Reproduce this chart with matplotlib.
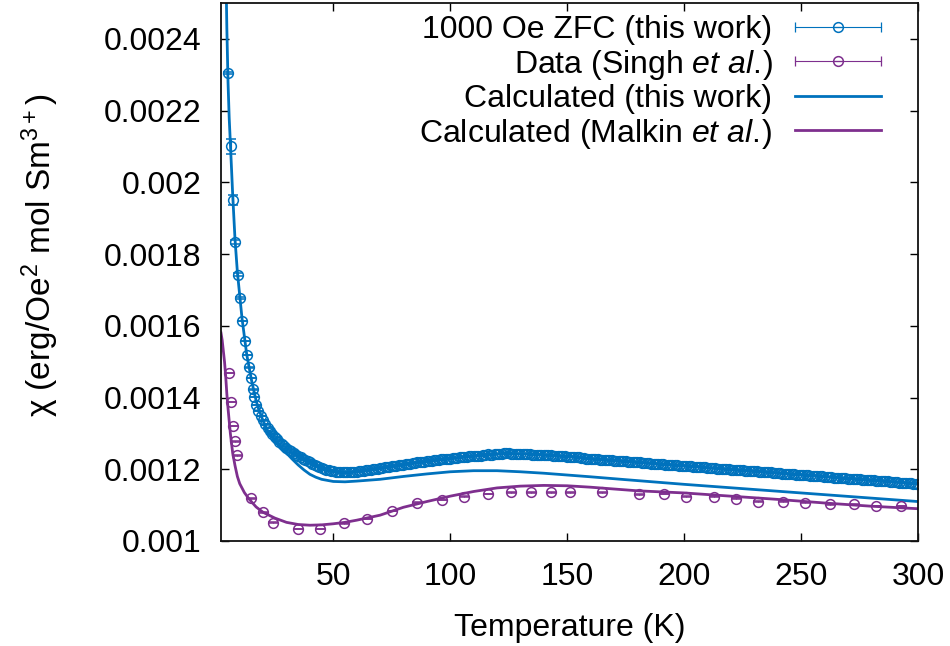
import matplotlib
matplotlib.use("Agg")
import matplotlib.pyplot as plt
from matplotlib.lines import Line2D
from matplotlib.legend_handler import HandlerBase
from matplotlib.ticker import FuncFormatter, MultipleLocator

plt.rcParams['font.family'] = ['Liberation Sans', 'DejaVu Sans']
plt.rcParams['mathtext.fontset'] = 'custom'
plt.rcParams['mathtext.rm'] = 'Liberation Sans'
plt.rcParams['mathtext.it'] = 'Liberation Sans:italic'
plt.rcParams['mathtext.sf'] = 'Liberation Sans'

BLUE = '#0072bd'
PURPLE = '#7e2f8e'
FS = 23

# ---------------- data ----------------
# 1000 Oe ZFC (this work)
T_zfc_low = [4.9, 6.1, 7.1, 8.1, 9.3, 10.1, 11.1, 12.1, 13.2, 14.0, 14.8, 15.6, 16.3, 17.1]
chi_zfc_low = [0.002304, 0.0021, 0.00195, 0.001834, 0.001742, 0.001678, 0.001613, 0.001558,
               0.001519, 0.001484, 0.001454, 0.001423, 0.001402, 0.001379]
T_zfc_high = list(range(18, 301))
chi_zfc_high = [
    # 18-60
    0.001362, 0.001348, 0.001336, 0.001325, 0.001315, 0.001306, 0.001298, 0.00129, 0.001283,
    0.001277, 0.001271, 0.001265, 0.00126, 0.001255, 0.00125, 0.001245, 0.001241, 0.001237,
    0.001233, 0.001229, 0.001226, 0.001223, 0.00122, 0.001216, 0.001212, 0.001209, 0.001206,
    0.001203, 0.001201, 0.001199, 0.001197, 0.001195, 0.001194, 0.001193, 0.001192, 0.001191,
    0.001191, 0.001191, 0.001191, 0.001191, 0.001192, 0.001192, 0.001193,
    # 61-100
    0.001194, 0.001195, 0.001196, 0.001197, 0.001198, 0.001199, 0.0012, 0.001201, 0.001202,
    0.001203, 0.001204, 0.001205, 0.001206, 0.001207, 0.001208, 0.001209, 0.00121, 0.001211,
    0.001212, 0.001213, 0.001214, 0.001215, 0.001216, 0.001217, 0.001218, 0.001219, 0.001219,
    0.00122, 0.001221, 0.001222, 0.001223, 0.001224, 0.001225, 0.001226, 0.001227, 0.001228,
    0.001228, 0.001229, 0.00123, 0.00123,
    # 101-140
    0.001231, 0.001232, 0.001232, 0.001233, 0.001234, 0.001234, 0.001235, 0.001236, 0.001236,
    0.001237, 0.001237, 0.001238, 0.001238, 0.001239, 0.001241, 0.001242, 0.00124, 0.001241,
    0.001242, 0.001243, 0.001242, 0.001242, 0.001244, 0.001245, 0.001244, 0.001243, 0.001243,
    0.001243, 0.001243, 0.001243, 0.001243, 0.001242, 0.001242, 0.001242, 0.001241, 0.001241,
    0.001241, 0.001241, 0.00124, 0.00124,
    # 141-200
    0.00124, 0.001239, 0.001239, 0.001238, 0.001238, 0.001237, 0.001237, 0.001236, 0.001236,
    0.001235, 0.001235, 0.001234, 0.001234, 0.001233, 0.001233, 0.001232, 0.001231, 0.00123,
    0.00123, 0.001229, 0.001229, 0.001228, 0.001228, 0.001227, 0.001227, 0.001226, 0.001226,
    0.001225, 0.001225, 0.001224, 0.001224, 0.001223, 0.001223, 0.001222, 0.001222, 0.001221,
    0.001221, 0.00122, 0.00122, 0.001219, 0.001219, 0.001218, 0.001218, 0.001217, 0.001217,
    0.001216, 0.001216, 0.001215, 0.001215, 0.001214, 0.001214, 0.001213, 0.001213, 0.001212,
    0.001212, 0.001211, 0.001211, 0.00121, 0.00121, 0.001209,
    # 201-250
    0.001209, 0.001208, 0.001208, 0.001207, 0.001207, 0.001206, 0.001206, 0.001205, 0.001205,
    0.001204, 0.001204, 0.001203, 0.001203, 0.001202, 0.001202, 0.001201, 0.001201, 0.0012,
    0.0012, 0.001199, 0.001199, 0.001198, 0.001198, 0.001197, 0.001197, 0.001196, 0.001196,
    0.001195, 0.001195, 0.001194, 0.001194, 0.001193, 0.001193, 0.001192, 0.001192, 0.001191,
    0.001191, 0.00119, 0.00119, 0.001189, 0.001189, 0.001188, 0.001188, 0.001187, 0.001187,
    0.001186, 0.001186, 0.001185, 0.001185, 0.001184,
    # 251-300
    0.001184, 0.001183, 0.001183, 0.001182, 0.001182, 0.001181, 0.001181, 0.00118, 0.00118,
    0.001179, 0.001179, 0.001178, 0.001178, 0.001177, 0.001177, 0.001176, 0.001176, 0.001175,
    0.001175, 0.001174, 0.001174, 0.001173, 0.001173, 0.001172, 0.001172, 0.001171, 0.001171,
    0.00117, 0.00117, 0.001169, 0.001169, 0.001168, 0.001168, 0.001167, 0.001167, 0.001166,
    0.001166, 0.001165, 0.001165, 0.001164, 0.001164, 0.001163, 0.001163, 0.001162, 0.001162,
    0.001161, 0.001161, 0.00116, 0.00116, 0.001159,
]
T_zfc = T_zfc_low + T_zfc_high
chi_zfc = chi_zfc_low + chi_zfc_high
err_zfc_low = [0.000003, 0.00002, 0.000014, 0.000006, 0.000004, 0.000003]
err_floor = 0.0000008

# Data (Singh et al.)
T_singh = [5.4, 6.2, 7.3, 8.1, 9.0, 14.8, 20.1, 24.4, 34.9, 44.4, 54.6, 64.6, 75.3, 85.7,
           96.4, 105.7, 116.3, 125.9, 134.5, 143.0, 151.3, 164.9, 180.8, 191.2, 200.9,
           212.6, 222.2, 231.4, 242.1, 251.5, 262.2, 272.8, 282.2, 292.8]
chi_singh = [0.001468, 0.001387, 0.001321, 0.001278, 0.001239, 0.001119, 0.00108, 0.001051,
             0.001033, 0.001033, 0.001049, 0.001061, 0.001084, 0.001107, 0.001114, 0.001124,
             0.001131, 0.001136, 0.001136, 0.001136, 0.001136, 0.001136, 0.00113, 0.001131,
             0.001124, 0.001124, 0.001118, 0.00111, 0.00111, 0.001107, 0.001102, 0.001102,
             0.001098, 0.001098]

# Calculated (this work)
T_calc = [3.0, 3.5, 4.0, 4.5, 5.0, 5.5, 6.0, 7.0, 8.0, 9.0, 10.0, 11.0, 12.0, 13.0, 14.0, 15.0,
          16.0, 17.0, 18.0, 20.0, 22.5, 25.0, 27.5, 30.0, 32.5, 35.0, 37.5, 40.0, 42.5, 45.0,
          50.0, 55.0, 60.0, 70.0, 80.0, 90.0, 100.0, 110.0, 120.0, 130.0, 140.0, 150.0, 160.0,
          175.0, 200.0, 225.0, 250.0, 275.0, 300.0]
chi_calc = [0.0031, 0.00283, 0.00263, 0.00243, 0.00228, 0.00218, 0.00211, 0.001965, 0.00184,
            0.00175, 0.001685, 0.00162, 0.00157, 0.00152, 0.001485, 0.00145, 0.00142, 0.001392,
            0.00137, 0.001335, 0.0013, 0.00128, 0.001262, 0.001245, 0.001228, 0.001212,
            0.001198, 0.001186, 0.001178, 0.001172, 0.001166, 0.001165, 0.001167, 0.001172,
            0.00118, 0.001187, 0.001193, 0.001196, 0.001196, 0.001193, 0.001189, 0.001184,
            0.001179, 0.001171, 0.001158, 0.001146, 0.001134, 0.001122, 0.00111]

# Calculated (Malkin et al.)
T_malkin = [2.0, 2.5, 3.0, 3.5, 4.0, 4.5, 5.0, 6.0, 7.0, 8.0, 9.0, 10.0, 12.0, 14.0, 17.0,
            20.0, 25.0, 30.0, 35.0, 40.0, 45.0, 50.0, 55.0, 60.0, 70.0, 80.0, 90.0, 100.0,
            110.0, 120.0, 130.0, 140.0, 150.0, 160.0, 170.0, 180.0, 190.0, 200.0, 220.0,
            240.0, 260.0, 280.0, 300.0]
chi_malkin = [0.00158, 0.00156, 0.00153, 0.0015, 0.00146, 0.00141, 0.00137, 0.0013, 0.001245,
              0.00121, 0.00118, 0.00116, 0.001135, 0.001117, 0.001095, 0.00108, 0.001064,
              0.001052, 0.001046, 0.001044, 0.001045, 0.001048, 0.001052, 0.001058, 0.001072,
              0.001094, 0.00111, 0.001125, 0.001138, 0.001148, 0.001153, 0.001155, 0.001154,
              0.00115, 0.001145, 0.00114, 0.001137, 0.001134, 0.001125, 0.001116, 0.001106,
              0.001097, 0.00109]

labels = ['1000 Oe ZFC (this work)', r'Data (Singh $\mathit{et\ al.}\!\mathrm{)}$',
          'Calculated (this work)', r'Calculated (Malkin $\mathit{et\ al.}\!\mathrm{)}$']

# ---------------- figure ----------------
fig = plt.figure(figsize=(9.5, 6.46), dpi=100)
ax = fig.add_axes([221 / 950, 1 - 541 / 646, 697 / 950, 538 / 646])

yerr_zfc = err_zfc_low + [err_floor] * (len(T_zfc) - len(err_zfc_low))
yerr_singh = [err_floor] * len(T_singh)

mk = dict(marker='o', ms=7.0, mfc='none', mew=1.1, ls='none', capsize=3.5,
          elinewidth=0.8, capthick=0.9)
ax.errorbar(T_zfc, chi_zfc, yerr=yerr_zfc, color=BLUE, mec=BLUE, ecolor=BLUE, **mk)
ax.errorbar(T_singh, chi_singh, yerr=yerr_singh, color=PURPLE, mec=PURPLE, ecolor=PURPLE, **mk)
ax.plot(T_calc, chi_calc, color=BLUE, lw=2.0)
ax.plot(T_malkin, chi_malkin, color=PURPLE, lw=2.0)

ax.set_xlim(2, 300)
ax.set_ylim(0.001, 0.0025)
ax.xaxis.set_major_locator(MultipleLocator(50))
ax.yaxis.set_major_locator(MultipleLocator(0.0002))
ax.yaxis.set_major_formatter(FuncFormatter(lambda v, p: '%g' % round(v, 6)))
ax.xaxis.set_major_formatter(FuncFormatter(lambda v, p: '%g' % v))

for s in ax.spines.values():
    s.set_linewidth(1.3)
    s.set_color('#111111')
ax.tick_params(direction='in', top=True, right=True, length=5.5, width=1.0,
               labelsize=FS, colors='black')
ax.tick_params(axis='x', pad=15)
ax.tick_params(axis='y', pad=14)

ax.set_xlabel('Temperature (K)', fontsize=FS)
ax.xaxis.set_label_coords(0.5, (541 - 628) / 538)
ax.xaxis.label.set_va('center')
ax.set_ylabel(r'χ (erg/Oe$^{2}$ mol Sm$^{3+}$)', fontsize=24)
ax.yaxis.set_label_coords((40 - 221) / 697, (541 - 255) / 538)
ax.yaxis.label.set_va('center')


class GnuErrHandler(HandlerBase):
    def __init__(self, color):
        super().__init__()
        self.color = color

    def create_artists(self, legend, orig_handle, xdescent, ydescent, width, height,
                       fontsize, trans):
        y = height / 2 - ydescent
        x0 = -xdescent
        x1 = x0 + width
        xm = (x0 + x1) / 2
        line = Line2D([x0, x1], [y, y], color=self.color, lw=0.8)
        caps = Line2D([x0, x1], [y, y], ls='none', marker='|', ms=7, mew=0.9, color=self.color)
        circ = Line2D([xm], [y], ls='none', marker='o', ms=7.0, mfc='none', mew=1.1,
                      mec=self.color)
        bar = Line2D([xm], [y], ls='none', marker='_', ms=7.0, mew=0.9, color=self.color)
        arts = [line, caps, circ, bar]
        for a in arts:
            a.set_transform(trans)
        return arts


h1 = Line2D([], [], color=BLUE)
h2 = Line2D([], [], color=PURPLE)
h3 = Line2D([], [], color=BLUE, lw=2.0)
h4 = Line2D([], [], color=PURPLE, lw=2.0)
leg = ax.legend([h1, h2, h3, h4], labels, loc='upper right',
                bbox_to_anchor=((881 - 221) / 697, 1 - (15 - 3) / 538),
                frameon=False, markerfirst=False, fontsize=FS, borderpad=0,
                borderaxespad=0, handlelength=2.7, handletextpad=0.7, labelspacing=0.08,
                handler_map={h1: GnuErrHandler(BLUE), h2: GnuErrHandler(PURPLE)})

fig.savefig('out.png', dpi=100)
